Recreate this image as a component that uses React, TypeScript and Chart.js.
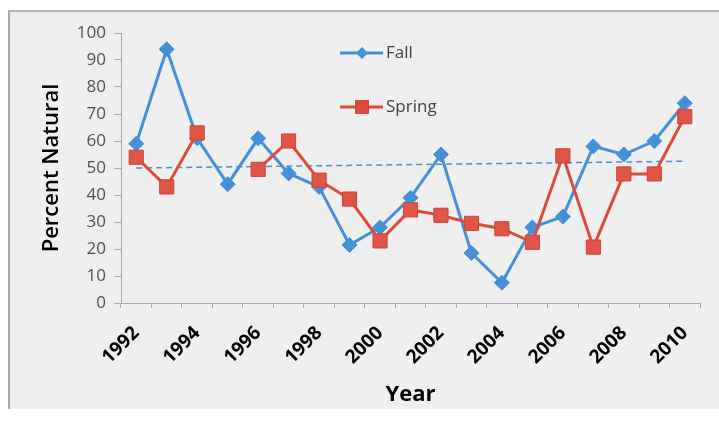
import React, { useEffect, useRef } from "react";
import { Chart, registerables } from "chart.js";

Chart.register(...registerables);

const years = ["1992","1993","1994","1995","1996","1997","1998","1999","2000","2001","2002","2003","2004","2005","2006","2007","2008","2009","2010"];
const fall = [59, 94, 61, 44, 61, 48, 43, 21.5, 28, 39, 55, 18.5, 7.5, 28, 32, 58, 55, 60, 74];
const spring = [54, 43, 63, null, 49.5, 60, 45.5, 38.5, 23, 34.5, 32.5, 29.5, 27.5, 22.5, 54.5, 20.7, 47.8, 47.8, 69];
const trend = [50, null, null, null, null, null, null, null, null, null, null, null, null, null, null, null, null, null, 52.5];
const seriesNames = ["Fall", "Spring"];

const BLUE = "#4590d6";
const RED = "#dc4a3e";
const FONT = "'Open Sans', sans-serif";

const legendPlugin = {
  id: "insideLegend",
  afterDraw(chart: any) {
    const { ctx, chartArea } = chart;
    const x0 = chartArea.left + 219;
    const rows = [
      { name: seriesNames[0], color: BLUE, shape: "diamond", y: chartArea.top + 20 },
      { name: seriesNames[1], color: RED, shape: "square", y: chartArea.top + 74 },
    ];
    ctx.save();
    rows.forEach((r) => {
      ctx.strokeStyle = r.color;
      ctx.lineWidth = 3;
      ctx.beginPath();
      ctx.moveTo(x0, r.y);
      ctx.lineTo(x0 + 43, r.y);
      ctx.stroke();
      const cx = x0 + 22;
      ctx.fillStyle = r.color;
      ctx.beginPath();
      if (r.shape === "diamond") {
        ctx.moveTo(cx, r.y - 6);
        ctx.lineTo(cx + 6, r.y);
        ctx.lineTo(cx, r.y + 6);
        ctx.lineTo(cx - 6, r.y);
        ctx.closePath();
      } else {
        ctx.rect(cx - 7, r.y - 7, 14, 14);
      }
      ctx.fill();
      ctx.fillStyle = "#404040";
      ctx.font = "17px " + FONT;
      ctx.textBaseline = "middle";
      ctx.textAlign = "left";
      ctx.fillText(r.name, x0 + 46, r.y);
    });
    ctx.restore();
  },
};

export default function App() {
  const ref = useRef<HTMLCanvasElement | null>(null);
  useEffect(() => {
    if (!ref.current) return;
    const chart = new Chart(ref.current, {
      type: "line",
      data: {
        labels: years,
        datasets: [
          {
            label: seriesNames[1],
            data: spring,
            borderColor: RED,
            backgroundColor: "#e05545",
            pointBorderColor: "#cc4035",
            pointStyle: "rect",
            pointRadius: 10,
            pointBorderWidth: 1,
            borderWidth: 3,
            spanGaps: false,
            order: 0,
          },
          {
            label: seriesNames[0],
            data: fall,
            borderColor: BLUE,
            backgroundColor: BLUE,
            pointStyle: "rectRot",
            pointRadius: 7.5,
            pointBorderWidth: 1,
            borderWidth: 3,
            order: 1,
          },
          {
            label: "trend",
            data: trend,
            borderColor: "#4a8fc8",
            borderWidth: 1.5,
            borderDash: [6, 4],
            pointRadius: 0,
            spanGaps: true,
            order: 2,
          },
        ],
      },
      options: {
        responsive: false,
        animation: false,
        devicePixelRatio: 1,
        layout: { padding: { top: 21, right: 19, left: 0, bottom: 0 } },
        plugins: { legend: { display: false }, tooltip: { enabled: false } },
        scales: {
          x: {
            offset: true,
            grid: { offset: true, drawOnChartArea: false, tickLength: 5, color: "#a8a8b4" },
            border: { color: "#a8a8b4" },
            ticks: {
              autoSkip: false,
              minRotation: 45,
              maxRotation: 45,
              padding: 14,
              color: "#000",
              font: { family: FONT, size: 19, weight: "bold" },
              callback: (_v: any, i: number) => (i % 2 === 0 ? years[i] : ""),
            },
            title: {
              display: true,
              text: "Year",
              color: "#000",
              font: { family: FONT, size: 22, weight: "bold" },
              padding: { top: 0, bottom: 1 },
            },
            afterFit: (s: any) => { s.height = 106; },
          },
          y: {
            min: 0,
            max: 100,
            ticks: { stepSize: 10, padding: 8, color: "#505050", font: { family: FONT, size: 17 } },
            grid: { drawOnChartArea: false, tickLength: 7, color: "#a8a8b4" },
            border: { color: "#a8a8b4" },
            title: {
              display: true,
              text: "Percent Natural",
              color: "#000",
              font: { family: FONT, size: 22, weight: "600" },
              padding: { top: 29, bottom: 0 },
            },
            afterFit: (s: any) => { s.width = 111; },
          },
        },
      },
      plugins: [legendPlugin],
    });
    return () => chart.destroy();
  }, []);

  return (
    <div
      style={{
        position: "absolute",
        left: 8,
        top: 10,
        width: 711,
        height: 399,
        background: "#efefef",
        borderTop: "2px solid #b4b4b4",
        borderLeft: "2px solid #a8a8a8",
        boxSizing: "border-box",
      }}
    >
      <canvas ref={ref} width={709} height={397} style={{ display: "block" }} />
    </div>
  );
}
